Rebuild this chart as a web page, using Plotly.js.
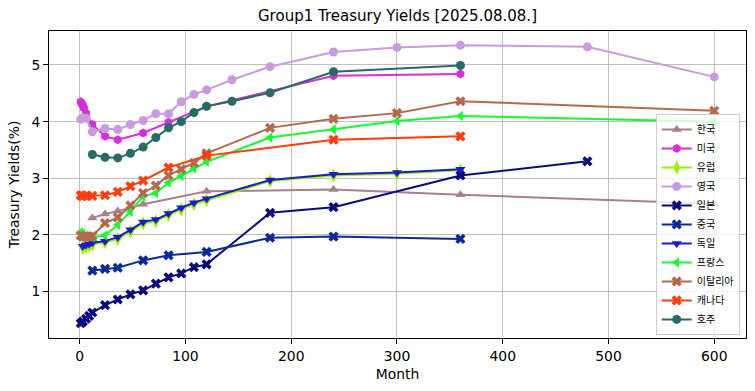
<!DOCTYPE html>
<html>
<head>
<meta charset="utf-8">
<script src="https://cdn.plot.ly/plotly-3.0.1.min.js"></script>
<style>html,body{margin:0;padding:0;background:#fff;}#chart{width:755px;height:391px;}</style>
</head>
<body>
<div id="chart"></div>
<script>
// Country names (legend order)
const names = ['한국','미국','유럽','영국','일본','중국','독일','프랑스','이탈리아','캐나다','호주'];

// Maturities (months) and yields (%)
const KR_m = [12,24,36,60,120,240,360,600];
const KR_y = [2.30,2.37,2.42,2.54,2.77,2.80,2.71,2.55];

const US_m = [1,2,3,4,6,12,24,36,60,84,120,240,360];
const US_y = [4.35,4.32,4.29,4.24,4.15,3.95,3.74,3.68,3.80,3.99,4.27,4.81,4.84];

const EU_m = [3,6,9,12,24,36,48,60,72,84,96,108,120,180,240,300,360];
const EU_y = [1.77,1.79,1.81,1.83,1.87,1.93,2.06,2.20,2.24,2.35,2.45,2.54,2.61,2.95,3.05,3.08,3.14];

const UK_m = [1,3,6,12,24,36,48,60,72,84,96,108,120,144,180,240,300,360,480,600];
const UK_y = [4.04,4.07,4.06,3.82,3.88,3.86,3.95,4.02,4.14,4.14,4.35,4.48,4.56,4.74,4.97,5.23,5.31,5.35,5.32,4.79];

const JP_m = [1,3,6,9,12,24,36,48,60,72,84,96,108,120,180,240,360,480];
const JP_y = [0.44,0.47,0.52,0.57,0.63,0.76,0.86,0.95,1.02,1.14,1.25,1.32,1.43,1.48,2.39,2.49,3.05,3.30];

const CN_m = [12,24,36,60,84,120,180,240,360];
const CN_y = [1.37,1.40,1.42,1.55,1.64,1.70,1.95,1.97,1.93];

const DE_m = [3,6,9,12,24,36,48,60,72,84,96,108,120,180,240,300,360];
const DE_y = [1.80,1.82,1.84,1.86,1.89,1.96,2.09,2.23,2.27,2.38,2.48,2.57,2.64,2.97,3.07,3.10,3.16];

const FR_m = [1,3,6,9,12,24,36,48,60,72,84,96,108,120,180,240,300,360,600];
const FR_y = [2.05,2.02,1.99,1.97,1.96,1.99,2.18,2.41,2.68,2.74,2.92,3.04,3.17,3.29,3.72,3.86,4.01,4.10,4.00];

const IT_m = [1,3,6,9,12,24,36,48,60,72,84,96,108,120,180,240,300,360,600];
const IT_y = [1.99,1.97,1.96,1.97,1.98,2.21,2.31,2.52,2.74,2.87,3.05,3.16,3.27,3.44,3.89,4.05,4.15,4.36,4.19];

const CA_m = [1,2,3,6,12,24,36,48,60,84,120,240,360];
const CA_y = [2.70,2.69,2.69,2.69,2.69,2.70,2.76,2.86,2.96,3.19,3.40,3.68,3.74];

const AU_m = [12,24,36,48,60,72,84,96,108,120,144,180,240,360];
const AU_y = [3.42,3.37,3.36,3.44,3.55,3.72,3.89,4.00,4.16,4.27,4.36,4.51,4.88,4.99];

const xs = [KR_m,US_m,EU_m,UK_m,JP_m,CN_m,DE_m,FR_m,IT_m,CA_m,AU_m];
const ys = [KR_y,US_y,EU_y,UK_y,JP_y,CN_y,DE_y,FR_y,IT_y,CA_y,AU_y];
const colors = ['#a8808a','#d62fd8','#9cf000','#c89be0','#0b0b80','#0a2a9a','#1c1cc8','#10ff2a','#b5694b','#ff3d0d','#266b66'];
const symbols = ['triangle-up','hexagon','diamond-tall','circle','x','x','triangle-down','triangle-left','x','x','circle'];
const sizes = [9,9,10,9,9,9,9,9,9,9,9];

const traces = names.map((n,i)=>({
  x: xs[i], y: ys[i], name: n, type:'scatter', mode:'lines+markers',
  line:{color:colors[i], width:2},
  marker:{color:colors[i], symbol:symbols[i], size:sizes[i], line:{width:0}}
}));

const axisFont = {family:'DejaVu Sans', size:13.9, color:'#000'};
const layout = {
  width:755, height:391,
  margin:{l:49, r:9, t:31, b:53},
  paper_bgcolor:'#fff', plot_bgcolor:'#fff',
  title:{text:'Group1 Treasury Yields [2025.08.08.]', font:{family:'DejaVu Sans', size:15, color:'#000'},
         x:0.5, xref:'paper', y:1-16/391, yref:'container', yanchor:'middle'},
  xaxis:{range:[-29,630], tickvals:[0,100,200,300,400,500,600], ticks:'outside', ticklen:5, tickcolor:'#000',
         showline:true, mirror:true, linecolor:'#000', linewidth:1, showgrid:true, gridcolor:'#b0b0b0', gridwidth:0.8,
         zeroline:false, tickfont:axisFont, title:{text:'Month', font:axisFont, standoff:6}, automargin:false},
  yaxis:{range:[0.18,5.6], tickvals:[1,2,3,4,5], ticks:'outside', ticklen:5, tickcolor:'#000',
         showline:true, mirror:true, linecolor:'#000', linewidth:1, showgrid:true, gridcolor:'#b0b0b0', gridwidth:0.8,
         zeroline:false, tickfont:axisFont, title:{text:'Treasury Yields(%)', font:axisFont, standoff:8}, automargin:false},
  showlegend:true,
  legend:{x:0.991, xanchor:'right', y:0.01, yanchor:'bottom', bgcolor:'rgba(255,255,255,0.8)', bordercolor:'#cccccc', borderwidth:1,
          font:{family:'Noto Sans CJK KR', size:10, color:'#000'}, tracegroupgap:0}
};
Plotly.newPlot('chart', traces, layout, {displayModeBar:false, staticPlot:true});
</script>
</body>
</html>
